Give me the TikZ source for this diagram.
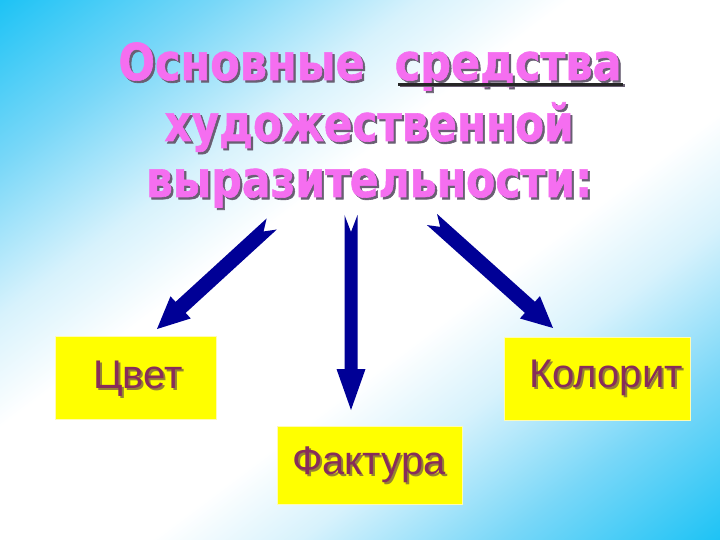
\documentclass[tikz,border=0pt]{standalone}
\usepackage{fontspec}
\usetikzlibrary{calc}
\newfontfamily\titlefont{DejaVu Sans}[BoldFeatures={FakeBold=1.2}]
\newfontfamily\boxfont{Liberation Sans}
\definecolor{bgcyan}{RGB}{30,195,245}
\definecolor{bgctwo}{RGB}{120,215,248}
\definecolor{bgcthree}{RGB}{215,242,252}
\definecolor{titlepink}{RGB}{245,110,240}
\definecolor{titleshadow}{RGB}{105,95,115}
\definecolor{arrowblue}{RGB}{0,0,150}
\definecolor{boxyellow}{RGB}{255,255,0}
\definecolor{boxtext}{RGB}{135,45,90}
\definecolor{boxshadow}{RGB}{150,130,50}
\pgfdeclarehorizontalshading{bgshade}{100bp}{color(0bp)=(bgcyan); color(20bp)=(bgcyan); color(29bp)=(bgctwo); color(37.5bp)=(bgcthree); color(43.75bp)=(white); color(56.25bp)=(white); color(62.5bp)=(bgcthree); color(71bp)=(bgctwo); color(80bp)=(bgcyan); color(100bp)=(bgcyan)}
\tikzset{
  titletext/.style={anchor=base, inner sep=0pt, text=titlepink, font=\titlefont\bfseries\fontsize{46bp}{50bp}\selectfont},
  titleshade/.style={titletext, text=titleshadow},
  boxstyle/.style={fill=boxyellow, draw=white!70!yellow, line width=0.6bp, inner sep=0pt},
  labeltext/.style={anchor=base west, inner sep=0pt, text=boxtext, font=\boxfont\fontsize{40bp}{44bp}\selectfont},
  labelshade/.style={labeltext, text=boxshadow},
  arrowfill/.style={fill=arrowblue},
}
\newcommand\titleline[4]{%
  \node[titleshade] at ($(#1)+(2.2,2.2)$) {\scalebox{#4}[1.1]{#3}};
  \node[titletext] (#2) at (#1) {\scalebox{#4}[1.1]{#3}};}
\newcommand\boxlabel[3]{%
  \node[labelshade] at ($(#1)+(2,2)$) {#3};
  \node[labeltext] (#2) at (#1) {#3};}
\newcommand\blockarrow[6]{%
  \coordinate (#1-h) at ($(#2)!#3!(#1)$);
  \fill[arrowfill] ($(#1)!#5!90:(#2)$) -- ($(#1-h)!#5!90:(#2)$) -- ($(#1-h)!#4!90:(#2)$) -- (#2) -- ($(#1-h)!#4!-90:(#2)$) -- ($(#1-h)!#5!-90:(#2)$) -- ($(#1)!#5!-90:(#2)$) -- ($(#1)!#6!(#2)$) -- cycle;}
\begin{document}
\begin{tikzpicture}[x=1bp,y=-1bp]
\useasboundingbox (0,0) rectangle (720,540);
\begin{scope}
\clip (0,0) rectangle (720,540);
\shade[shading=bgshade, shading angle=-53.13] (0,-90) rectangle (720,630);
\end{scope}
% title
\coordinate (p1) at (370,80);
\coordinate (p2) at (369,141);
\coordinate (p3) at (369,197);
\titleline{p1}{t1}{Основные\ \ средства}{0.935}
\titleline{p2}{t2}{художественной}{0.915}
\titleline{p3}{t3}{выразительности:}{0.925}
\draw[titleshadow, line width=3bp] (400,86) -- (625,86);
\draw[black!85, line width=2.6bp] (398,84.5) -- (623,84.5);
% boxes
\node[boxstyle, minimum width=161bp, minimum height=83bp] (b1) at (135.5,378) {};
\node[boxstyle, minimum width=185bp, minimum height=78bp] (b2) at (369.5,465) {};
\node[boxstyle, minimum width=186bp, minimum height=83bp] (b3) at (597.5,378.5) {};
\coordinate (q1) at (93,388);
\coordinate (q2) at (292,474);
\coordinate (q3) at (529,387);
\boxlabel{q1}{l1}{Цвет}
\boxlabel{q2}{l2}{Фактура}
\boxlabel{q3}{l3}{Колорит}
% arrows
\coordinate (a1) at (271.7,224);
\coordinate (e1) at (157,329);
\coordinate (a2) at (351,215);
\coordinate (e2) at (351,410);
\coordinate (a3) at (432,219.5);
\coordinate (e3) at (553,328);
\blockarrow{a1}{e1}{32bp}{15bp}{7.5bp}{11bp}
\blockarrow{a2}{e2}{41bp}{14.5bp}{6.5bp}{17bp}
\blockarrow{a3}{e3}{31bp}{15bp}{7.5bp}{11bp}
\end{tikzpicture}
\end{document}
